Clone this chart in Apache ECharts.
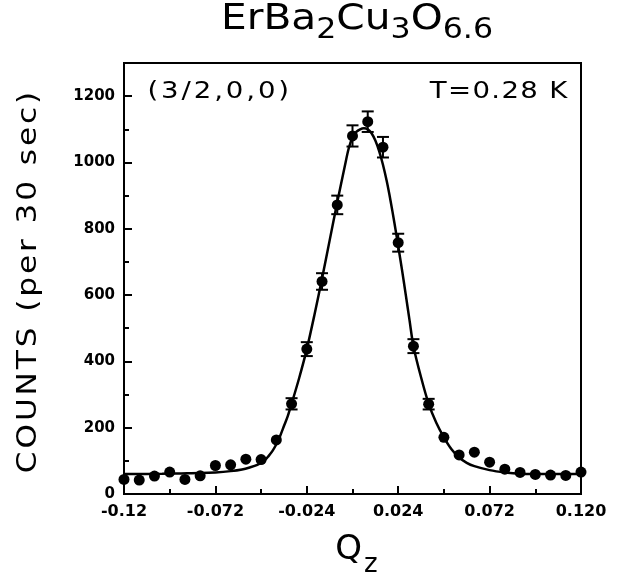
<!DOCTYPE html>
<html><head><meta charset="utf-8">
<script src="https://cdn.jsdelivr.net/npm/echarts@6/dist/echarts.min.js"></script>
<style>html,body{margin:0;padding:0;background:#fff}#chart{width:621px;height:577px}</style>
</head><body><div id="chart"></div>
<script>
// ---- data ----
const qValues = [-0.120,-0.112,-0.104,-0.096,-0.088,-0.080,-0.072,-0.064,-0.056,-0.048,-0.040,-0.032,-0.024,-0.016,-0.008,0.000,0.008,0.016,0.024,0.032,0.040,0.048,0.056,0.064,0.072,0.080,0.088,0.096,0.104,0.112,0.120];
const counts = [44,42,54,66,44,55,86,88,105,104,163,272,437,641,872,1080,1123,1046,758,446,271,171,118,126,96,75,65,59,57,56,66];
const countErrors = [null,null,null,null,null,null,null,null,null,null,null,17,21,25,28,32,31,31,27,21,16,null,null,null,null,null,null,null,null,null,null];
const fitQ = [-0.120,-0.100,-0.090,-0.080,-0.072,-0.064,-0.058,-0.054,-0.050,-0.046,-0.044,-0.042,-0.040,-0.038,-0.036,-0.034,-0.032,-0.028,-0.024,-0.020,-0.016,-0.012,-0.008,-0.004,-0.002,0.000,0.002,0.004,0.006,0.008,0.010,0.012,0.014,0.016,0.018,0.020,0.022,0.024,0.026,0.028,0.030,0.032,0.036,0.040,0.044,0.048,0.052,0.056,0.060,0.064,0.072,0.080,0.088,0.100,0.120];
const fitCounts = [60,61,62,63,65,69,74,80,88,102,115,130,150,175,205,235,272,350,437,540,650,765,880,990,1042,1075,1092,1100,1103,1100,1088,1066,1034,993,943,884,818,748,676,600,522,446,352,272,215,171,135,110,94,84,72,65,61,60,60];
const xTickValues = [-0.12,-0.072,-0.024,0.024,0.072,0.12];
const xTickLabels = ['-0.12','-0.072','-0.024','0.024','0.072','0.120'];
const xMinorTicks = [-0.096,-0.048,0,0.048,0.096];
const yTickValues = [0,200,400,600,800,1000,1200];
const yTickLabels = ['0','200','400','600','800','1000','1200'];
const yMinorTicks = [100,300,500,700,900,1100];
const titleParts = [['ErBa','big'],['2','sub'],['Cu','big'],['3','sub'],['O','big'],['6.6','sub']];
const yAxisTitle = 'COUNTS (per 30 sec)';
const xAxisTitleParts = [['Q','q'],['z','z']];
const reflectionLabel = '(3/2,0,0)';
const temperatureLabel = 'T=0.28 K';

// ---- helpers ----
const FONT = "'DejaVu Sans', sans-serif";
function spaced(text, style) {
  return Array.from(text).map(ch => '{' + style + '|' + ch + '}').join('');
}
function lookup(values, labels, v) {
  const i = values.findIndex(t => Math.abs(t - v) < 1e-9);
  return i >= 0 ? labels[i] : '';
}

const chart = echarts.init(document.getElementById('chart'), null, {renderer: 'canvas'});

const pointData = qValues.map((q, i) => [q, counts[i]]);
const errData = qValues.map((q, i) => [q, counts[i], countErrors[i]]).filter(d => d[2] != null);
const fitData = fitQ.map((q, i) => [q, fitCounts[i]]);

const tickStyle = {color: '#000', width: 2};
const labelFont = {fontFamily: FONT, fontWeight: 'bold', color: '#000'};

const option = {
  animation: false,
  backgroundColor: '#fff',
  grid: {left: 124, right: 40, top: 63, bottom: 83, show: true, borderColor: '#000', borderWidth: 2, containLabel: false},
  xAxis: [
    {type: 'value', min: -0.12, max: 0.12, position: 'bottom',
     axisLine: {show: true, onZero: false, lineStyle: tickStyle},
     axisTick: {show: true, inside: true, length: 8, customValues: xTickValues, lineStyle: tickStyle},
     axisLabel: Object.assign({customValues: xTickValues, fontSize: 16, margin: 10,
       formatter: v => lookup(xTickValues, xTickLabels, v)}, labelFont),
     splitLine: {show: false}},
    {type: 'value', min: -0.12, max: 0.12, position: 'bottom',
     axisLine: {show: false, onZero: false},
     axisTick: {show: true, inside: true, length: 5, customValues: xMinorTicks, lineStyle: tickStyle},
     axisLabel: {show: false}, splitLine: {show: false}}
  ],
  yAxis: [
    {type: 'value', min: 0, max: 1300, position: 'left',
     axisLine: {show: true, onZero: false, lineStyle: tickStyle},
     axisTick: {show: true, inside: true, length: 8, customValues: yTickValues, lineStyle: tickStyle},
     axisLabel: Object.assign({customValues: yTickValues, fontSize: 15, margin: 9,
       formatter: v => lookup(yTickValues, yTickLabels, v)}, labelFont),
     splitLine: {show: false}},
    {type: 'value', min: 0, max: 1300, position: 'left',
     axisLine: {show: false, onZero: false},
     axisTick: {show: true, inside: true, length: 5, customValues: yMinorTicks, lineStyle: tickStyle},
     axisLabel: {show: false}, splitLine: {show: false}}
  ],
  series: [
    {type: 'line', data: fitData, xAxisIndex: 0, yAxisIndex: 0, showSymbol: false, symbol: 'none',
     smooth: 0.3, lineStyle: {color: '#000', width: 2.5}, z: 2, silent: true},
    {type: 'custom', data: errData, xAxisIndex: 0, yAxisIndex: 0, z: 3, silent: true,
     encode: {x: 0, y: 1},
     renderItem: function (params, api) {
       const x = api.value(0), y = api.value(1), e = api.value(2);
       const top = api.coord([x, y + e]);
       const bot = api.coord([x, y - e]);
       const hw = 6;
       const st = {stroke: '#000', lineWidth: 2};
       return {type: 'group', children: [
         {type: 'line', shape: {x1: top[0], y1: top[1], x2: bot[0], y2: bot[1]}, style: st},
         {type: 'line', shape: {x1: top[0] - hw, y1: top[1], x2: top[0] + hw, y2: top[1]}, style: st},
         {type: 'line', shape: {x1: bot[0] - hw, y1: bot[1], x2: bot[0] + hw, y2: bot[1]}, style: st}
       ]};
     }},
    {type: 'scatter', data: pointData, xAxisIndex: 0, yAxisIndex: 0, symbol: 'circle', symbolSize: 11,
     itemStyle: {color: '#000', opacity: 1}, z: 4, silent: true}
  ],
  graphic: [
    {type: 'text', x: 357, y: 19.5, scaleX: 1.13, silent: true,
     style: {
       text: titleParts.map(p => spaced(p[0], p[1])).join(''),
       align: 'center', verticalAlign: 'middle',
       rich: {
         big: {fontFamily: FONT, fontSize: 36, lineHeight: 40, verticalAlign: 'middle', fill: '#000'},
         sub: {fontFamily: FONT, fontSize: 28, lineHeight: 30, padding: [23, 0, 0, 0], verticalAlign: 'middle', fill: '#000'}
       }
     }},
    {type: 'text', x: 29, y: 282.5, rotation: Math.PI / 2, scaleX: 1.2, silent: true,
     style: {
       text: spaced(yAxisTitle, 'n'),
       align: 'center', verticalAlign: 'middle',
       rich: {n: {fontFamily: FONT, fontSize: 26, lineHeight: 30, padding: [0, 1.2, 0, 1.2], verticalAlign: 'middle', fill: '#000'}}
     }},
    {type: 'text', x: 356.5, y: 550, silent: true,
     style: {
       text: xAxisTitleParts.map(p => spaced(p[0], p[1])).join(''),
       align: 'center', verticalAlign: 'middle',
       rich: {
         q: {fontFamily: FONT, fontSize: 34, lineHeight: 40, verticalAlign: 'middle', fill: '#000'},
         z: {fontFamily: FONT, fontSize: 26, lineHeight: 30, padding: [30, 0, 0, 2], verticalAlign: 'middle', fill: '#000'}
       }
     }},
    {type: 'text', x: 146, y: 92, scaleX: 1.2, silent: true,
     style: {
       text: spaced(reflectionLabel, 'a'),
       align: 'left', verticalAlign: 'middle',
       rich: {a: {fontFamily: FONT, fontSize: 23, lineHeight: 26, padding: [0, 1.2, 0, 1.2], verticalAlign: 'middle', fill: '#000'}}
     }},
    {type: 'text', x: 568, y: 92, scaleX: 1.2, silent: true,
     style: {
       text: spaced(temperatureLabel, 'a'),
       align: 'right', verticalAlign: 'middle',
       rich: {a: {fontFamily: FONT, fontSize: 23, lineHeight: 26, padding: [0, 0.55, 0, 0.55], verticalAlign: 'middle', fill: '#000'}}
     }}
  ]
};
chart.setOption(option);
</script>
</body></html>
